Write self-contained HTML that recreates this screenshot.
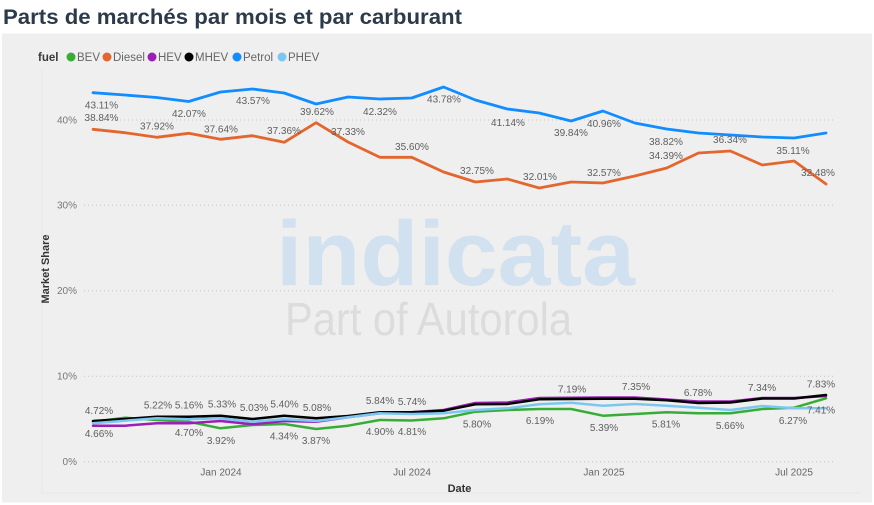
<!DOCTYPE html>
<html>
<head>
<meta charset="utf-8">
<style>
html,body{margin:0;padding:0;background:#fff;}
svg{display:block;}
text{font-family:"Liberation Sans",sans-serif;}
</style>
</head>
<body>
<svg width="874" height="505" viewBox="0 0 874 505" xmlns="http://www.w3.org/2000/svg">
<rect x="0" y="0" width="874" height="505" fill="#ffffff"/>
<text x="3" y="24" font-size="21" font-weight="bold" fill="#2c3a4a" textLength="459" lengthAdjust="spacingAndGlyphs">Parts de marchés par mois et par carburant</text>
<rect x="2" y="33.5" width="870" height="469" fill="#efefef"/>
<line x1="42" y1="70" x2="42" y2="493" stroke="#e7e7e7" stroke-width="1"/>
<line x1="42" y1="493" x2="860" y2="493" stroke="#e7e7e7" stroke-width="1"/>

<!-- legend -->
<text x="38" y="61" font-size="11.5" font-weight="bold" fill="#3a3a3a">fuel</text>
<circle cx="71" cy="57" r="4.5" fill="#37ad37"/><text x="77" y="61" font-size="11.5" fill="#666">BEV</text>
<circle cx="107" cy="57" r="4.5" fill="#e3662e"/><text x="113" y="61" font-size="11.5" fill="#666">Diesel</text>
<circle cx="152" cy="57" r="4.5" fill="#9b1fb5"/><text x="158" y="61" font-size="11.5" fill="#666">HEV</text>
<circle cx="189" cy="57" r="4.5" fill="#000"/><text x="195" y="61" font-size="11.5" fill="#666">MHEV</text>
<circle cx="237" cy="57" r="4.5" fill="#118dff"/><text x="243" y="61" font-size="11.5" fill="#666">Petrol</text>
<circle cx="282" cy="57" r="4.5" fill="#7cc7f2"/><text x="288" y="61" font-size="11.5" fill="#666">PHEV</text>

<!-- watermark -->
<text x="276" y="285" font-size="92" font-weight="bold" fill="#d2e1f0" textLength="359" lengthAdjust="spacingAndGlyphs">indicata</text>
<text x="285" y="335" font-size="46" fill="#dcdcdc" textLength="287" lengthAdjust="spacingAndGlyphs">Part of Autorola</text>

<!-- gridlines -->
<g stroke="#c4c4c4" stroke-width="1" stroke-dasharray="1,3">
<line x1="84" y1="120" x2="833" y2="120"/>
<line x1="84" y1="205.2" x2="833" y2="205.2"/>
<line x1="84" y1="290.7" x2="833" y2="290.7"/>
<line x1="84" y1="376.2" x2="833" y2="376.2"/>
<line x1="84" y1="461.7" x2="833" y2="461.7"/>
</g>
<g font-size="10" fill="#777" text-anchor="end">
<text x="77" y="123.5">40%</text>
<text x="77" y="208.7">30%</text>
<text x="77" y="294.2">20%</text>
<text x="77" y="379.7">10%</text>
<text x="77" y="465.2">0%</text>
</g>
<g font-size="10" fill="#666" text-anchor="middle">
<text x="221" y="475.5">Jan 2024</text>
<text x="412" y="475.5">Jul 2024</text>
<text x="604" y="475.5">Jan 2025</text>
<text x="794" y="475.5">Jul 2025</text>
</g>
<text x="459.5" y="492" font-size="11" font-weight="bold" fill="#333" text-anchor="middle">Date</text>
<text transform="translate(49,269) rotate(-90)" font-size="11" font-weight="bold" fill="#333" text-anchor="middle">Market Share</text>

<!-- series -->
<g fill="none" stroke-linejoin="round" stroke-linecap="round">
<polyline stroke="#37ad37" stroke-width="2.5" points="93,421.7 124.9,417.7 156.7,420 188.6,421.7 220.5,428.3 252.4,425 284.2,424 316.1,429 348,425.7 379.8,420 411.7,420.5 443.6,418.3 475.4,411.7 507.3,410 539.2,409 571.1,409 602.9,415.7 634.8,414 666.7,412.3 698.5,413.3 730.4,413.3 762.3,409 794.1,407.7 826,398.3"/>
<polyline stroke="#9b1fb5" stroke-width="2.5" points="93,425.7 124.9,425.7 156.7,423.3 188.6,423.3 220.5,421 252.4,424.3 284.2,421 316.1,421.7 348,417.3 379.8,413.3 411.7,412.3 443.6,410 475.4,403 507.3,402.5 539.2,398 571.1,397.7 602.9,397.5 634.8,397.5 666.7,399.5 698.5,401.5 730.4,401.5 762.3,398 794.1,398 826,396"/>
<polyline stroke="#000000" stroke-width="2.5" points="93,421 124.9,419 156.7,416.7 188.6,416.7 220.5,415.7 252.4,419 284.2,415.7 316.1,418.3 348,416 379.8,412.3 411.7,412.3 443.6,410.7 475.4,404.3 507.3,404 539.2,399.3 571.1,399 602.9,398.8 634.8,398.8 666.7,400.3 698.5,403 730.4,402.5 762.3,398.5 794.1,398.5 826,395"/>
<polyline stroke="#118dff" stroke-width="2.8" points="93,92.7 124.9,95 156.7,97.5 188.6,101.5 220.5,92 252.4,89 284.2,93 316.1,104 348,97 379.8,99 411.7,98 443.6,87 475.4,100 507.3,109 539.2,113 571.1,121 602.9,111 634.8,123 666.7,129 698.5,133 730.4,135 762.3,137 794.1,138 826,133"/>
<polyline stroke="#7cc7f2" stroke-width="2.5" points="93,423.3 124.9,420.7 156.7,418.3 188.6,419.3 220.5,418.3 252.4,421.7 284.2,419.3 316.1,421 348,417.3 379.8,413.3 411.7,414 443.6,413.3 475.4,410 507.3,408.3 539.2,404.3 571.1,402.7 602.9,405.7 634.8,404 666.7,405.7 698.5,407.7 730.4,410 762.3,406 794.1,408.3 826,408.3"/>
<polyline stroke="#e3662e" stroke-width="2.8" points="93,129.3 124.9,132.7 156.7,137.3 188.6,133.3 220.5,139.3 252.4,135.7 284.2,142.3 316.1,122.7 348,142 379.8,157.3 411.7,157.3 443.6,172 475.4,182 507.3,179 539.2,188 571.1,182 602.9,183 634.8,176 666.7,168 698.5,153 730.4,151 762.3,165 794.1,161 826,184"/>
</g>

<!-- data labels -->
<g font-size="10" fill="#5f5f5f" text-anchor="middle">
<text x="101.5" y="108.5">43.11%</text>
<text x="189" y="116.8">42.07%</text>
<text x="253" y="104">43.57%</text>
<text x="317" y="115.2">39.62%</text>
<text x="380" y="115.2">42.32%</text>
<text x="444" y="102.5">43.78%</text>
<text x="508" y="125.8">41.14%</text>
<text x="571" y="136.2">39.84%</text>
<text x="604" y="126.8">40.96%</text>
<text x="666" y="145.2">38.82%</text>
<text x="730" y="142.8">36.34%</text>
<text x="666" y="159.2">34.39%</text>
<text x="793" y="154.2">35.11%</text>
<text x="818" y="176.2">32.48%</text>
<text x="477" y="174.2">32.75%</text>
<text x="540" y="180.2">32.01%</text>
<text x="604" y="175.8">32.57%</text>
<text x="412" y="150.2">35.60%</text>
<text x="348" y="135.2">37.33%</text>
<text x="284" y="134.2">37.36%</text>
<text x="221" y="132.5">37.64%</text>
<text x="157" y="129.5">37.92%</text>
<text x="101.5" y="121.2">38.84%</text>

<text x="99" y="414.2">4.72%</text>
<text x="99" y="436.8">4.66%</text>
<text x="158" y="408.5">5.22%</text>
<text x="189" y="408.5">5.16%</text>
<text x="222" y="407.5">5.33%</text>
<text x="254" y="410.8">5.03%</text>
<text x="284.5" y="407.5">5.40%</text>
<text x="317" y="411.2">5.08%</text>
<text x="380" y="404.2">5.84%</text>
<text x="412" y="405.2">5.74%</text>
<text x="189" y="435.8">4.70%</text>
<text x="221" y="444.2">3.92%</text>
<text x="284" y="439.5">4.34%</text>
<text x="316" y="444.2">3.87%</text>
<text x="380" y="435.2">4.90%</text>
<text x="412" y="435.2">4.81%</text>
<text x="477" y="427.5">5.80%</text>
<text x="572" y="392.5">7.19%</text>
<text x="540" y="424.2">6.19%</text>
<text x="636" y="390.2">7.35%</text>
<text x="604" y="431.2">5.39%</text>
<text x="666" y="427.5">5.81%</text>
<text x="698" y="396.2">6.78%</text>
<text x="730" y="429.2">5.66%</text>
<text x="762" y="391.2">7.34%</text>
<text x="793" y="423.8">6.27%</text>
<text x="821" y="387.5">7.83%</text>
<text x="821" y="413.5">7.41%</text>
</g>
</svg>
</body>
</html>
